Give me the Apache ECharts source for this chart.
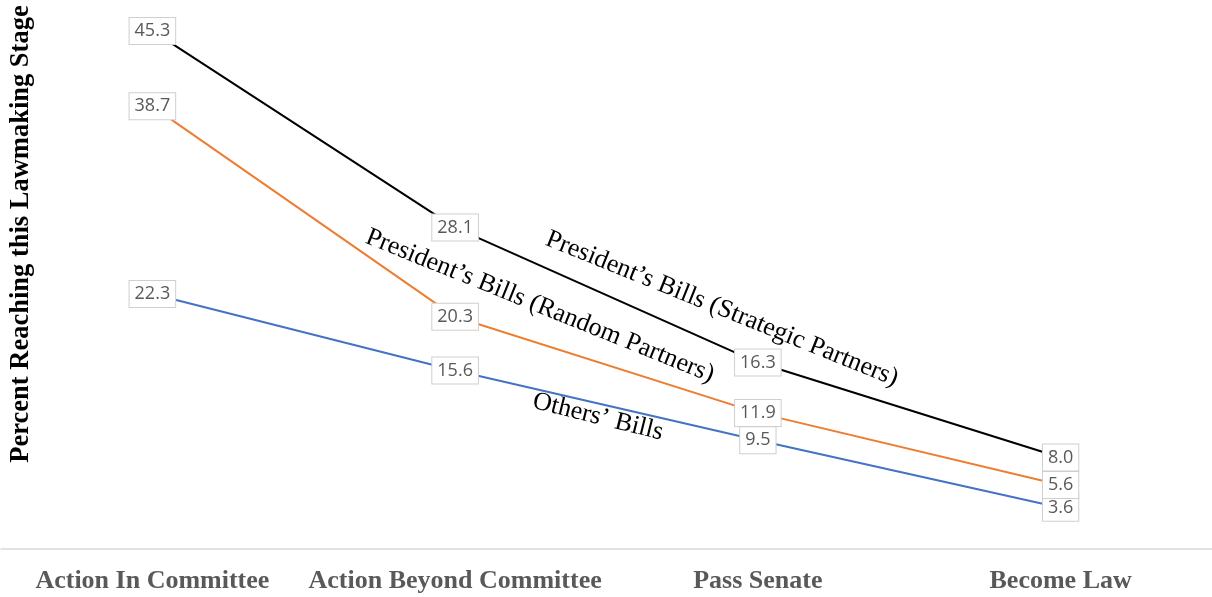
<!DOCTYPE html>
<html>
<head>
<meta charset="utf-8">
<script src="https://cdn.jsdelivr.net/npm/echarts@6/dist/echarts.min.js"></script>
<style>
  html, body { margin: 0; padding: 0; background: #fff; }
  #chart { width: 1212px; height: 597px; }
</style>
</head>
<body>
<div id="chart"></div>
<script>
// Lawmaking stages and share of bills reaching each one (percent)
const stages = ['Action In Committee', 'Action Beyond Committee', 'Pass Senate', 'Become Law'];
const strategicPartners = [45.3, 28.1, 16.3, 8.0];
const randomPartners = [38.7, 20.3, 11.9, 5.6];
const othersBills = [22.3, 15.6, 9.5, 3.6];

const seriesNames = [
  "President\u2019s Bills (Strategic Partners)",
  "President\u2019s Bills (Random Partners)",
  "Others\u2019 Bills"
];

const chart = echarts.init(document.getElementById('chart'), null, { renderer: 'canvas' });

const valueLabel = {
  show: true,
  position: 'inside',
  formatter: p => p.value.toFixed(1),
  color: '#595959',
  fontFamily: '"Open Sans", "Liberation Sans", sans-serif',
  fontSize: 18,
  lineHeight: 18,
  backgroundColor: '#ffffff',
  borderColor: '#cfcfcf',
  borderWidth: 1,
  padding: [6, 5, 2, 5]
};

function lineSeries(name, data, color, z) {
  return {
    name: name,
    type: 'line',
    data: data,
    z: z,
    symbol: 'circle',
    symbolSize: 2,
    showSymbol: true,
    itemStyle: { color: 'rgba(0,0,0,0)', borderWidth: 0 },
    lineStyle: { color: color, width: 2 },
    label: valueLabel,
    labelLayout: { hideOverlap: false },
    animation: false
  };
}

const serif = '"Liberation Serif", "Times New Roman", serif';

chart.setOption({
  animation: false,
  grid: { left: 1, top: 0, width: 1217, bottom: 48, containLabel: false },
  xAxis: {
    type: 'category',
    data: stages,
    boundaryGap: true,
    axisLine: { show: true, lineStyle: { color: '#d9d9d9', width: 1.5 } },
    axisTick: { show: false },
    axisLabel: {
      color: '#595959',
      fontFamily: serif,
      fontWeight: 'bold',
      fontSize: 26,
      margin: 19,
      interval: 0
    }
  },
  yAxis: {
    type: 'value',
    min: 0,
    max: 48,
    axisLine: { show: false },
    axisTick: { show: false },
    axisLabel: { show: false },
    splitLine: { show: false }
  },
  series: [
    lineSeries(seriesNames[2], othersBills, '#4472C4', 2),
    lineSeries(seriesNames[1], randomPartners, '#ED7D31', 3),
    lineSeries(seriesNames[0], strategicPartners, '#000000', 4)
  ],
  graphic: [
    {
      type: 'text',
      x: 21, y: 234,
      rotation: Math.PI / 2,
      style: {
        text: 'Percent Reaching this Lawmaking Stage',
        font: 'bold 26.5px ' + serif,
        fill: '#000000',
        align: 'center',
        verticalAlign: 'middle'
      }
    },
    {
      type: 'text',
      x: 722, y: 309,
      rotation: -22 * Math.PI / 180,
      style: {
        text: seriesNames[0],
        font: '26px ' + serif,
        fill: '#000000',
        align: 'center',
        verticalAlign: 'middle'
      }
    },
    {
      type: 'text',
      x: 540, y: 306,
      rotation: -22 * Math.PI / 180,
      style: {
        text: seriesNames[1],
        font: '26px ' + serif,
        fill: '#000000',
        align: 'center',
        verticalAlign: 'middle'
      }
    },
    {
      type: 'text',
      x: 598, y: 417,
      rotation: -14 * Math.PI / 180,
      style: {
        text: seriesNames[2],
        font: '26px ' + serif,
        fill: '#000000',
        align: 'center',
        verticalAlign: 'middle'
      }
    }
  ]
});
</script>
</body>
</html>
